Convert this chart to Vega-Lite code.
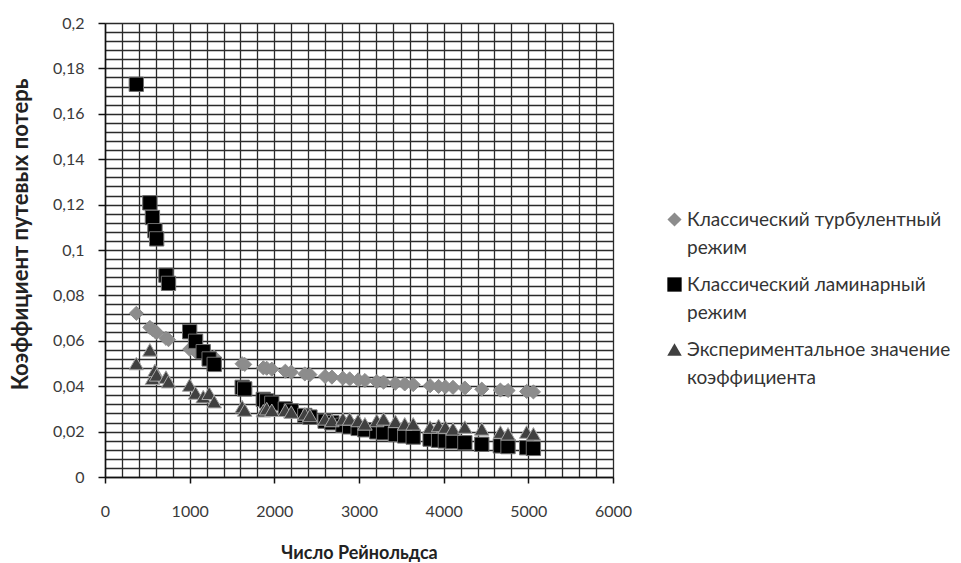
{
  "$schema": "https://vega.github.io/schema/vega-lite/v6.json",
  "width": 508,
  "height": 454,
  "autosize": {"type": "none"},
  "padding": {"left": 105, "top": 23, "right": 348, "bottom": 86},
  "background": "white",
  "config": {
    "font": "Lato",
    "view": {"stroke": null},
    "style": {"guide-label": {"lineHeight": 28}}
  },
  "data": {
    "values": [
      {"Re": 370, "s": "T", "v": 0.0721}, {"Re": 530, "s": "T", "v": 0.0659}, {"Re": 560, "s": "T", "v": 0.065}, {"Re": 590, "s": "T", "v": 0.0642}, {"Re": 610, "s": "T", "v": 0.0637}, {"Re": 720, "s": "T", "v": 0.0611}, {"Re": 750, "s": "T", "v": 0.0605}, {"Re": 1000, "s": "T", "v": 0.0563}, {"Re": 1070, "s": "T", "v": 0.0553}, {"Re": 1160, "s": "T", "v": 0.0542}, {"Re": 1230, "s": "T", "v": 0.0534}, {"Re": 1290, "s": "T", "v": 0.0528}, {"Re": 1620, "s": "T", "v": 0.0499}, {"Re": 1650, "s": "T", "v": 0.0496}, {"Re": 1870, "s": "T", "v": 0.0481}, {"Re": 1910, "s": "T", "v": 0.0479}, {"Re": 1970, "s": "T", "v": 0.0475}, {"Re": 2130, "s": "T", "v": 0.0466}, {"Re": 2200, "s": "T", "v": 0.0462}, {"Re": 2360, "s": "T", "v": 0.0454}, {"Re": 2420, "s": "T", "v": 0.0451}, {"Re": 2600, "s": "T", "v": 0.0443}, {"Re": 2680, "s": "T", "v": 0.044}, {"Re": 2810, "s": "T", "v": 0.0435}, {"Re": 2890, "s": "T", "v": 0.0432}, {"Re": 2990, "s": "T", "v": 0.0428}, {"Re": 3070, "s": "T", "v": 0.0425}, {"Re": 3210, "s": "T", "v": 0.042}, {"Re": 3290, "s": "T", "v": 0.0418}, {"Re": 3430, "s": "T", "v": 0.0413}, {"Re": 3540, "s": "T", "v": 0.041}, {"Re": 3640, "s": "T", "v": 0.0407}, {"Re": 3840, "s": "T", "v": 0.0402}, {"Re": 3940, "s": "T", "v": 0.0399}, {"Re": 4020, "s": "T", "v": 0.0397}, {"Re": 4110, "s": "T", "v": 0.0395}, {"Re": 4250, "s": "T", "v": 0.0392}, {"Re": 4450, "s": "T", "v": 0.0387}, {"Re": 4670, "s": "T", "v": 0.0383}, {"Re": 4760, "s": "T", "v": 0.0381}, {"Re": 4980, "s": "T", "v": 0.0377}, {"Re": 5060, "s": "T", "v": 0.0375},
      {"Re": 370, "s": "L", "v": 0.173}, {"Re": 530, "s": "L", "v": 0.1208}, {"Re": 560, "s": "L", "v": 0.1143}, {"Re": 590, "s": "L", "v": 0.1085}, {"Re": 610, "s": "L", "v": 0.1049}, {"Re": 720, "s": "L", "v": 0.0889}, {"Re": 750, "s": "L", "v": 0.0853}, {"Re": 1000, "s": "L", "v": 0.064}, {"Re": 1070, "s": "L", "v": 0.0598}, {"Re": 1160, "s": "L", "v": 0.0552}, {"Re": 1230, "s": "L", "v": 0.052}, {"Re": 1290, "s": "L", "v": 0.0496}, {"Re": 1620, "s": "L", "v": 0.0395}, {"Re": 1650, "s": "L", "v": 0.0388}, {"Re": 1870, "s": "L", "v": 0.0342}, {"Re": 1910, "s": "L", "v": 0.0335}, {"Re": 1970, "s": "L", "v": 0.0325}, {"Re": 2130, "s": "L", "v": 0.03}, {"Re": 2200, "s": "L", "v": 0.0291}, {"Re": 2360, "s": "L", "v": 0.0271}, {"Re": 2420, "s": "L", "v": 0.0264}, {"Re": 2600, "s": "L", "v": 0.0246}, {"Re": 2680, "s": "L", "v": 0.0239}, {"Re": 2810, "s": "L", "v": 0.0228}, {"Re": 2890, "s": "L", "v": 0.0221}, {"Re": 2990, "s": "L", "v": 0.0214}, {"Re": 3070, "s": "L", "v": 0.0208}, {"Re": 3210, "s": "L", "v": 0.0199}, {"Re": 3290, "s": "L", "v": 0.0195}, {"Re": 3430, "s": "L", "v": 0.0187}, {"Re": 3540, "s": "L", "v": 0.0181}, {"Re": 3640, "s": "L", "v": 0.0176}, {"Re": 3840, "s": "L", "v": 0.0167}, {"Re": 3940, "s": "L", "v": 0.0162}, {"Re": 4020, "s": "L", "v": 0.0159}, {"Re": 4110, "s": "L", "v": 0.0156}, {"Re": 4250, "s": "L", "v": 0.0151}, {"Re": 4450, "s": "L", "v": 0.0144}, {"Re": 4670, "s": "L", "v": 0.0137}, {"Re": 4760, "s": "L", "v": 0.0134}, {"Re": 4980, "s": "L", "v": 0.0129}, {"Re": 5060, "s": "L", "v": 0.0126},
      {"Re": 370, "s": "E", "v": 0.05}, {"Re": 530, "s": "E", "v": 0.056}, {"Re": 560, "s": "E", "v": 0.0435}, {"Re": 590, "s": "E", "v": 0.047}, {"Re": 610, "s": "E", "v": 0.045}, {"Re": 720, "s": "E", "v": 0.044}, {"Re": 750, "s": "E", "v": 0.042}, {"Re": 1000, "s": "E", "v": 0.0405}, {"Re": 1070, "s": "E", "v": 0.037}, {"Re": 1160, "s": "E", "v": 0.0354}, {"Re": 1230, "s": "E", "v": 0.0369}, {"Re": 1290, "s": "E", "v": 0.0332}, {"Re": 1620, "s": "E", "v": 0.031}, {"Re": 1650, "s": "E", "v": 0.0295}, {"Re": 1870, "s": "E", "v": 0.0292}, {"Re": 1910, "s": "E", "v": 0.0301}, {"Re": 1970, "s": "E", "v": 0.0294}, {"Re": 2130, "s": "E", "v": 0.0294}, {"Re": 2200, "s": "E", "v": 0.0286}, {"Re": 2360, "s": "E", "v": 0.0278}, {"Re": 2420, "s": "E", "v": 0.0271}, {"Re": 2600, "s": "E", "v": 0.0256}, {"Re": 2680, "s": "E", "v": 0.0249}, {"Re": 2810, "s": "E", "v": 0.0256}, {"Re": 2890, "s": "E", "v": 0.0256}, {"Re": 2990, "s": "E", "v": 0.0249}, {"Re": 3070, "s": "E", "v": 0.0234}, {"Re": 3210, "s": "E", "v": 0.0249}, {"Re": 3290, "s": "E", "v": 0.0256}, {"Re": 3430, "s": "E", "v": 0.0245}, {"Re": 3540, "s": "E", "v": 0.0234}, {"Re": 3640, "s": "E", "v": 0.0234}, {"Re": 3840, "s": "E", "v": 0.022}, {"Re": 3940, "s": "E", "v": 0.0227}, {"Re": 4020, "s": "E", "v": 0.022}, {"Re": 4110, "s": "E", "v": 0.0212}, {"Re": 4250, "s": "E", "v": 0.022}, {"Re": 4450, "s": "E", "v": 0.0212}, {"Re": 4670, "s": "E", "v": 0.0198}, {"Re": 4760, "s": "E", "v": 0.019}, {"Re": 4980, "s": "E", "v": 0.0198}, {"Re": 5060, "s": "E", "v": 0.019}
    ]
  },
  "resolve": {"axis": {"x": "independent", "y": "independent"}},
  "layer": [
    {
      "mark": {"type": "point", "opacity": 0},
      "encoding": {
        "x": {
          "field": "Re", "type": "quantitative",
          "scale": {"domain": [0, 6000], "nice": false, "zero": true},
          "axis": {
            "orient": "top", "title": null, "labels": false, "ticks": false, "domain": false,
            "grid": true, "gridColor": "#2a2a2a", "gridWidth": 1.3, "gridOpacity": 1,
            "values": [0, 200, 400, 600, 800, 1000, 1200, 1400, 1600, 1800, 2000, 2200, 2400, 2600, 2800, 3000, 3200, 3400, 3600, 3800, 4000, 4200, 4400, 4600, 4800, 5000, 5200, 5400, 5600, 5800, 6000]
          }
        },
        "y": {
          "field": "v", "type": "quantitative",
          "scale": {"domain": [0, 0.2], "nice": false, "zero": true},
          "axis": {
            "orient": "right", "title": null, "labels": false, "ticks": false, "domain": false,
            "grid": true, "gridColor": "#2a2a2a", "gridWidth": 1.3, "gridOpacity": 1,
            "values": [0, 0.004, 0.008, 0.012, 0.016, 0.02, 0.024, 0.028, 0.032, 0.036, 0.04, 0.044, 0.048, 0.052, 0.056, 0.06, 0.064, 0.068, 0.072, 0.076, 0.08, 0.084, 0.088, 0.092, 0.096, 0.1, 0.104, 0.108, 0.112, 0.116, 0.12, 0.124, 0.128, 0.132, 0.136, 0.14, 0.144, 0.148, 0.152, 0.156, 0.16, 0.164, 0.168, 0.172, 0.176, 0.18, 0.184, 0.188, 0.192, 0.196, 0.2]
          }
        }
      }
    },
    {
      "mark": {"type": "point", "filled": true, "opacity": 1, "strokeWidth": 1},
      "encoding": {
        "x": {
          "field": "Re", "type": "quantitative",
          "scale": {"domain": [0, 6000], "nice": false, "zero": true},
          "axis": {
            "orient": "bottom", "title": "Число Рейнольдса", "grid": false,
            "values": [0, 1000, 2000, 3000, 4000, 5000, 6000], "format": "d", "labelFlush": false,
            "domainColor": "#111", "domainWidth": 1.5,
            "tickColor": "#111", "tickWidth": 1.5, "tickSize": 6,
            "labelFontSize": 16, "labelColor": "#3a3a3a", "labelPadding": 20,
            "titleFontSize": 18, "titleFontWeight": "bold", "titleColor": "#222", "titlePadding": 25
          }
        },
        "y": {
          "field": "v", "type": "quantitative",
          "scale": {"domain": [0, 0.2], "nice": false, "zero": true},
          "axis": {
            "orient": "left", "title": "Коэффициент путевых потерь", "grid": false,
            "values": [0, 0.02, 0.04, 0.06, 0.08, 0.1, 0.12, 0.14, 0.16, 0.18, 0.2],
            "labelExpr": "replace(format(datum.value, '~g'), '.', ',')", "labelFlush": false,
            "domainColor": "#111", "domainWidth": 1.5,
            "tickColor": "#111", "tickWidth": 1.5, "tickSize": 7,
            "labelFontSize": 16, "labelColor": "#3a3a3a", "labelPadding": 14,
            "titleFontSize": 22, "titleFontWeight": "bold", "titleColor": "#222", "titlePadding": 20,
            "titleY": 211
          }
        },
        "color": {
          "field": "s", "type": "nominal",
          "scale": {"domain": ["T", "L", "E"], "range": ["#8c8c8c", "#000000", "#404040"]},
          "legend": {
            "title": null, "orient": "none", "legendX": 560, "legendY": 187,
            "labelExpr": "datum.label == 'T' ? ['Классический турбулентный', 'режим'] : datum.label == 'L' ? ['Классический ламинарный', 'режим'] : ['Экспериментальное значение', 'коэффициента']",
            "labelFontSize": 19, "labelColor": "#333", "labelLimit": 400, "labelOffset": 3,
            "labelBaseline": "middle", "symbolSize": 100, "symbolStrokeWidth": 0,
            "rowPadding": 17, "padding": 0
          }
        },
        "shape": {
          "field": "s", "type": "nominal",
          "scale": {"domain": ["T", "L", "E"], "range": ["diamond", "square", "triangle-up"]}
        },
        "stroke": {
          "field": "s", "type": "nominal",
          "scale": {"domain": ["T", "L", "E"], "range": ["#8c8c8c", "#6e6e6e", "#a6a6a6"]},
          "legend": null
        },
        "size": {
          "field": "s", "type": "nominal",
          "scale": {"domain": ["T", "L", "E"], "range": [200, 210, 220]},
          "legend": null
        }
      }
    }
  ]
}
